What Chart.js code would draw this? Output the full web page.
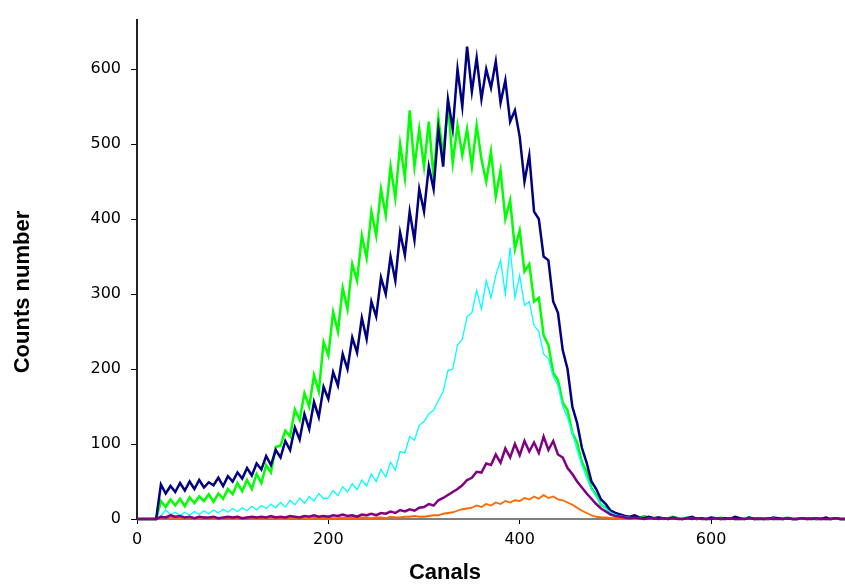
<!DOCTYPE html>
<html>
<head>
<meta charset="utf-8">
<script src="https://cdn.jsdelivr.net/npm/chart.js@4.4.1/dist/chart.umd.min.js"></script>
<style>
  body { margin: 0; background: #fff; }
  #wrap { width: 845px; height: 584px; }
</style>
</head>
<body>
<div id="wrap"><canvas id="spectrum" width="845" height="584"></canvas></div>
<script>
// channel numbers, one reading every 5 canals
const canals = [];
for (let c = 0; c <= 740; c += 5) canals.push(c);

const xTicks = [0, 200, 400, 600];
const yTicks = [0, 100, 200, 300, 400, 500, 600];

const navy = [
  0, 0, 0, 0, 0, 46, 34, 44, 36, 48,
  38, 50, 40, 52, 42, 49, 45, 55, 44, 57,
  50, 62, 54, 68, 58, 74, 66, 84, 72, 92,
  82, 104, 92, 122, 106, 140, 120, 156, 136, 176,
  160, 196, 178, 220, 200, 242, 222, 268, 240, 290,
  270, 322, 300, 350, 318, 382, 352, 410, 372, 440,
  410, 470, 440, 520, 470, 560, 520, 600, 550, 630,
  570, 615, 560, 600, 575, 610, 555, 585, 530, 545,
  510, 450, 485, 410, 400, 350, 345, 290, 275, 225,
  200, 150, 128, 95, 75, 50, 40, 26, 20, 11,
  8, 6, 4, 3, 5, 2, 1, 3, 1, 2,
  1, 0, 2, 1, 0, 1, 3, 0, 1, 0,
  2, 1, 0, 1, 0, 3, 1, 0, 2, 0,
  1, 0, 0, 2, 1, 0, 1, 0, 0, 1,
  0, 1, 0, 0, 2, 0, 1, 0, 0
];

const green = [
  0, 0, 0, 0, 0, 24, 16, 26, 18, 27,
  17, 29, 21, 30, 24, 33, 23, 34, 27, 40,
  33, 48, 37, 52, 40, 60, 48, 72, 62, 96,
  98, 118, 110, 146, 132, 168, 150, 192, 170, 236,
  218, 276, 250, 308, 280, 340, 318, 378, 348, 410,
  378, 440, 405, 470, 428, 500, 455, 545, 470, 520,
  470, 530, 455, 535, 485, 555, 475, 525, 485, 520,
  470, 525, 480, 450, 490, 430, 465, 400, 425, 360,
  385, 330, 340, 290, 295, 245, 232, 195, 185, 155,
  145, 115, 102, 76, 63, 41, 32, 19, 15, 8,
  6, 4, 3, 2, 3, 1, 4, 2, 1, 2,
  0, 1, 3, 1, 0, 2, 1, 0, 1, 0,
  1, 0, 2, 0, 1, 0, 0, 1, 2, 0,
  0, 1, 0, 0, 1, 0, 2, 0, 0, 1,
  1, 0, 0, 1, 0, 0, 1, 0, 0
];

const cyan = [
  0, 0, 0, 0, 0, 4, 12, 6, 9, 5,
  9, 5, 10, 6, 11, 7, 12, 8, 13, 9,
  14, 10, 15, 11, 17, 12, 18, 14, 20, 15,
  22, 16, 25, 19, 28, 21, 30, 24, 34, 27,
  28, 38, 31, 43, 36, 47, 39, 52, 44, 60,
  50, 66, 56, 76, 65, 90, 88, 110, 105, 125,
  130, 140, 145, 158, 170, 198, 200, 232, 240, 270,
  275, 305, 280, 318, 295, 325, 345, 300, 362, 295,
  325, 285, 290, 258, 250, 220, 214, 190, 178, 150,
  135, 115, 92, 72, 55, 40, 30, 20, 14, 9,
  6, 4, 3, 2, 1, 2, 0, 1, 2, 0,
  1, 0, 0, 1, 2, 0, 1, 0, 0, 1,
  0, 1, 0, 0, 1, 0, 0, 2, 0, 0,
  1, 0, 0, 1, 0, 0, 1, 0, 0, 0,
  0, 1, 0, 0, 0, 1, 0, 0, 0
];

const purple = [
  0, 0, 0, 0, 0, 3, 2, 5, 3, 4,
  2, 3, 1, 3, 2, 2, 3, 1, 2, 3,
  2, 3, 1, 2, 3, 2, 3, 2, 4, 2,
  3, 2, 4, 3, 2, 4, 3, 5, 3, 4,
  3, 5, 4, 6, 4, 5, 3, 6, 5, 7,
  5, 8, 7, 10, 8, 12, 10, 13, 11, 15,
  16, 20, 18, 25, 28, 32, 36, 40, 45, 52,
  55, 63, 62, 74, 72, 86, 75, 94, 82, 100,
  85, 104, 90, 102, 88, 110, 92, 104, 86, 82,
  68, 60, 50, 42, 34, 27, 20, 14, 10, 6,
  4, 3, 2, 1, 2, 1, 0, 1, 1, 0,
  1, 0, 1, 0, 0, 1, 0, 1, 0, 0,
  0, 1, 0, 0, 1, 0, 0, 0, 1, 0,
  0, 0, 1, 0, 0, 0, 1, 0, 0, 1,
  0, 0, 1, 0, 0, 0, 1, 0, 0
];

const orange = [
  0, 0, 0, 0, 0, 1, 3, 1, 2, 1,
  2, 1, 0, 1, 2, 1, 0, 1, 1, 2,
  1, 0, 1, 2, 1, 0, 1, 1, 2, 1,
  0, 1, 1, 2, 1, 1, 0, 2, 1, 1,
  2, 1, 1, 2, 1, 2, 1, 2, 2, 1,
  2, 2, 1, 3, 2, 2, 3, 3, 4, 3,
  3, 4, 5, 5, 7, 8, 9, 11, 13, 14,
  15, 18, 16, 20, 18, 22, 20, 24, 22, 25,
  24, 28, 26, 30, 27, 32, 28, 30, 26, 25,
  22, 19, 15, 11, 8, 5, 3, 2, 2, 1,
  1, 0, 1, 0, 0, 1, 0, 0, 1, 0,
  0, 0, 1, 0, 0, 0, 0, 1, 0, 0,
  0, 0, 0, 1, 0, 0, 0, 0, 0, 1,
  0, 0, 0, 0, 1, 0, 0, 0, 0, 0,
  0, 1, 0, 0, 0, 0, 0, 0, 0
];

function pts(vals) {
  return canals.map((c, i) => ({ x: c, y: vals[i] }));
}

function line(vals, color, width, order) {
  return {
    data: pts(vals),
    borderColor: color,
    borderWidth: width,
    pointRadius: 0,
    tension: 0,
    order: order,
    clip: 4
  };
}

// axis titles sit off-centre in the original, so draw them by hand
const axisTitles = {
  id: 'axisTitles',
  afterDraw(chart) {
    const ctx = chart.ctx;
    ctx.save();
    ctx.fillStyle = '#000';
    ctx.font = 'bold 22px "Liberation Sans", Arial, sans-serif';
    ctx.textAlign = 'center';
    ctx.textBaseline = 'middle';
    ctx.fillText('Canals', 445, 573);
    ctx.translate(23, 292);
    ctx.rotate(-Math.PI / 2);
    ctx.fillText('Counts number', 0, 0);
    ctx.restore();
  }
};

const tickFont = { family: '"DejaVu Sans", sans-serif', size: 16 };

new Chart(document.getElementById('spectrum'), {
  type: 'line',
  data: {
    datasets: [
      line(purple, '#800080', 2.5, 1),
      line(cyan, '#00FFFF', 1.3, 2),
      line(navy, '#000080', 2.5, 3),
      line(green, '#00FF00', 2.5, 4),
      line(orange, '#FF6600', 1.8, 5)
    ]
  },
  options: {
    responsive: false,
    animation: false,
    layout: { padding: { top: 18, left: 0, right: 0, bottom: 0 } },
    plugins: { legend: { display: false }, tooltip: { enabled: false } },
    scales: {
      x: {
        type: 'linear',
        min: 0,
        max: 740,
        afterBuildTicks: s => { s.ticks = xTicks.map(v => ({ value: v })); },
        afterFit: s => { s.height = 65; },
        border: { color: '#808080', width: 2 },
        grid: { drawOnChartArea: false, drawTicks: true, tickLength: 5, color: '#000' },
        ticks: { color: '#000', font: tickFont, padding: 6, maxRotation: 0 }
      },
      y: {
        min: 0,
        max: 666,
        afterBuildTicks: s => { s.ticks = yTicks.map(v => ({ value: v })); },
        afterFit: s => { s.width = 137; },
        border: { color: '#222', width: 2 },
        grid: { drawOnChartArea: false, drawTicks: true, tickLength: 6, color: '#000' },
        ticks: { color: '#000', font: tickFont, padding: 10 }
      }
    }
  },
  plugins: [axisTitles]
});
</script>
</body>
</html>
